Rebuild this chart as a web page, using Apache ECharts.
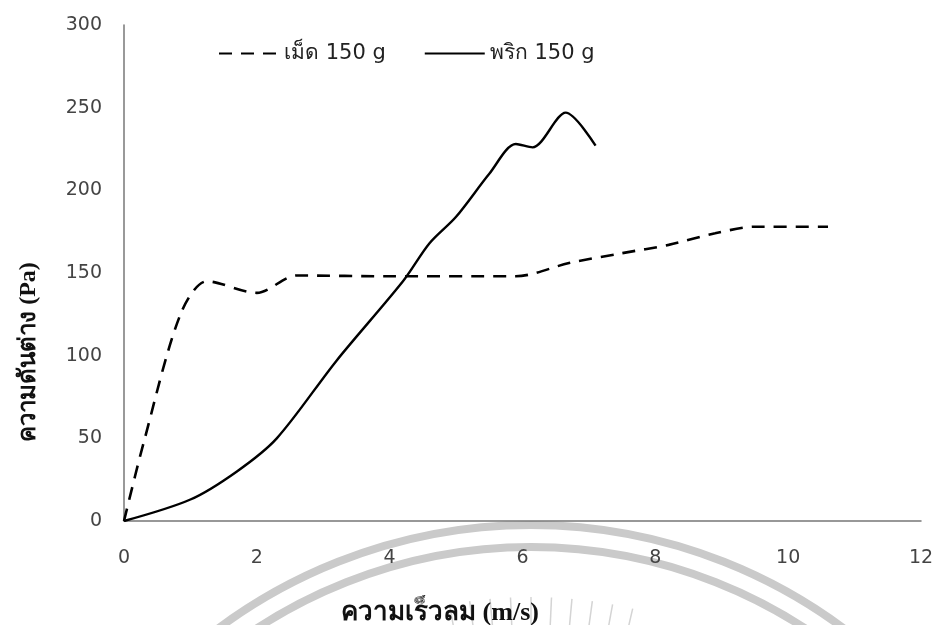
<!DOCTYPE html>
<html>
<head>
<meta charset="utf-8">
<script src="https://cdn.jsdelivr.net/npm/echarts@6/dist/echarts.min.js"></script>
<style>
  html, body { margin: 0; padding: 0; background: #fff; }
  #chart { width: 940px; height: 625px; }
</style>
</head>
<body>
<div id="chart"></div>
<script>
// Air velocity (m/s) vs. pressure drop (Pa)
const seedName = 'เม็ด 150 g';
const seedSpeed = [0, 0.3, 0.85, 1.25, 2.0, 2.6, 4.0, 5.9, 6.7, 7.5, 8.2, 8.9, 9.5, 10.6];
const seedDrop  = [0, 48, 125, 145, 138, 148.5, 148, 148, 156, 162, 167, 174, 178, 178];

const chiliName = 'พริก 150 g';
const chiliSpeed = [0, 1.0, 1.7, 2.3, 3.2, 4.2, 4.6, 5.0, 5.5, 5.9, 6.15, 6.65, 7.1];
const chiliDrop  = [0, 13, 30, 50, 97, 145, 168, 184, 210, 228, 226, 247, 227];

const xTitle = 'ความเร็วลม (m/s)';
const yTitle = 'ความดันต่าง (Pa)';

const pairs = (xs, ys) => xs.map((x, i) => [x, ys[i]]);

// Faint seal printed behind the lower part of the page
const seal = { cx: 531, cy: 1049, outer: 524, inner: 502 };
const sealGrey = '#cacaca';
const sealParts = [
  { type: 'circle', z: -10, silent: true,
    shape: { cx: seal.cx, cy: seal.cy, r: seal.outer },
    style: { fill: null, stroke: sealGrey, lineWidth: 8 } },
  { type: 'circle', z: -10, silent: true,
    shape: { cx: seal.cx, cy: seal.cy, r: seal.inner },
    style: { fill: null, stroke: sealGrey, lineWidth: 8 } }
];
for (let k = -4; k <= 5; k++) {
  const a = (-90 + k * 2.6) * Math.PI / 180;
  sealParts.push({
    type: 'line', z: -10, silent: true,
    shape: {
      x1: seal.cx + 400 * Math.cos(a), y1: seal.cy + 400 * Math.sin(a),
      x2: seal.cx + 452 * Math.cos(a), y2: seal.cy + 452 * Math.sin(a)
    },
    style: { stroke: '#d4d4d4', lineWidth: 1.5 }
  });
}

const chart = echarts.init(document.getElementById('chart'), null, { renderer: 'canvas' });
const tickFont = { fontFamily: 'DejaVu Sans', fontSize: 19, color: '#444' };
const titleFont = { fontFamily: 'serif', fontWeight: 'bold', fill: '#111', align: 'center', verticalAlign: 'middle' };

chart.setOption({
  backgroundColor: '#fff',
  animation: false,
  grid: { left: 124, right: 19, top: 25, bottom: 104 },
  legend: {
    top: 38,
    left: 213,
    itemWidth: 60,
    itemHeight: 12,
    itemGap: 38,
    itemStyle: { opacity: 0 },
    textStyle: { fontFamily: 'DejaVu Sans', fontSize: 21, color: '#222' },
    data: [seedName, chiliName]
  },
  xAxis: {
    type: 'value',
    min: 0, max: 12, interval: 2,
    axisLine: { lineStyle: { color: '#777', width: 1.5 } },
    axisTick: { show: false },
    splitLine: { show: false },
    axisLabel: Object.assign({ margin: 28 }, tickFont)
  },
  yAxis: {
    type: 'value',
    min: 0, max: 300, interval: 50,
    axisLine: { show: true, lineStyle: { color: '#777', width: 1.5 } },
    axisTick: { show: false },
    splitLine: { show: false },
    axisLabel: Object.assign({ margin: 22 }, tickFont)
  },
  graphic: sealParts.concat([
    {
      type: 'text', x: 440, y: 613, z: 10,
      style: Object.assign({ text: xTitle, fontSize: 26 }, titleFont)
    },
    {
      type: 'text', x: 29, y: 352, z: 10, rotation: Math.PI / 2,
      style: Object.assign({ text: yTitle, fontSize: 24 }, titleFont)
    }
  ]),
  series: [
    {
      name: seedName,
      type: 'line',
      data: pairs(seedSpeed, seedDrop),
      smooth: 0.3,
      symbol: 'none',
      lineStyle: { color: '#000', width: 2.6, type: [13, 9] },
      itemStyle: { color: '#000' }
    },
    {
      name: chiliName,
      type: 'line',
      data: pairs(chiliSpeed, chiliDrop),
      smooth: 0.3,
      symbol: 'none',
      lineStyle: { color: '#000', width: 2.4 },
      itemStyle: { color: '#000' }
    }
  ]
});
</script>
</body>
</html>
